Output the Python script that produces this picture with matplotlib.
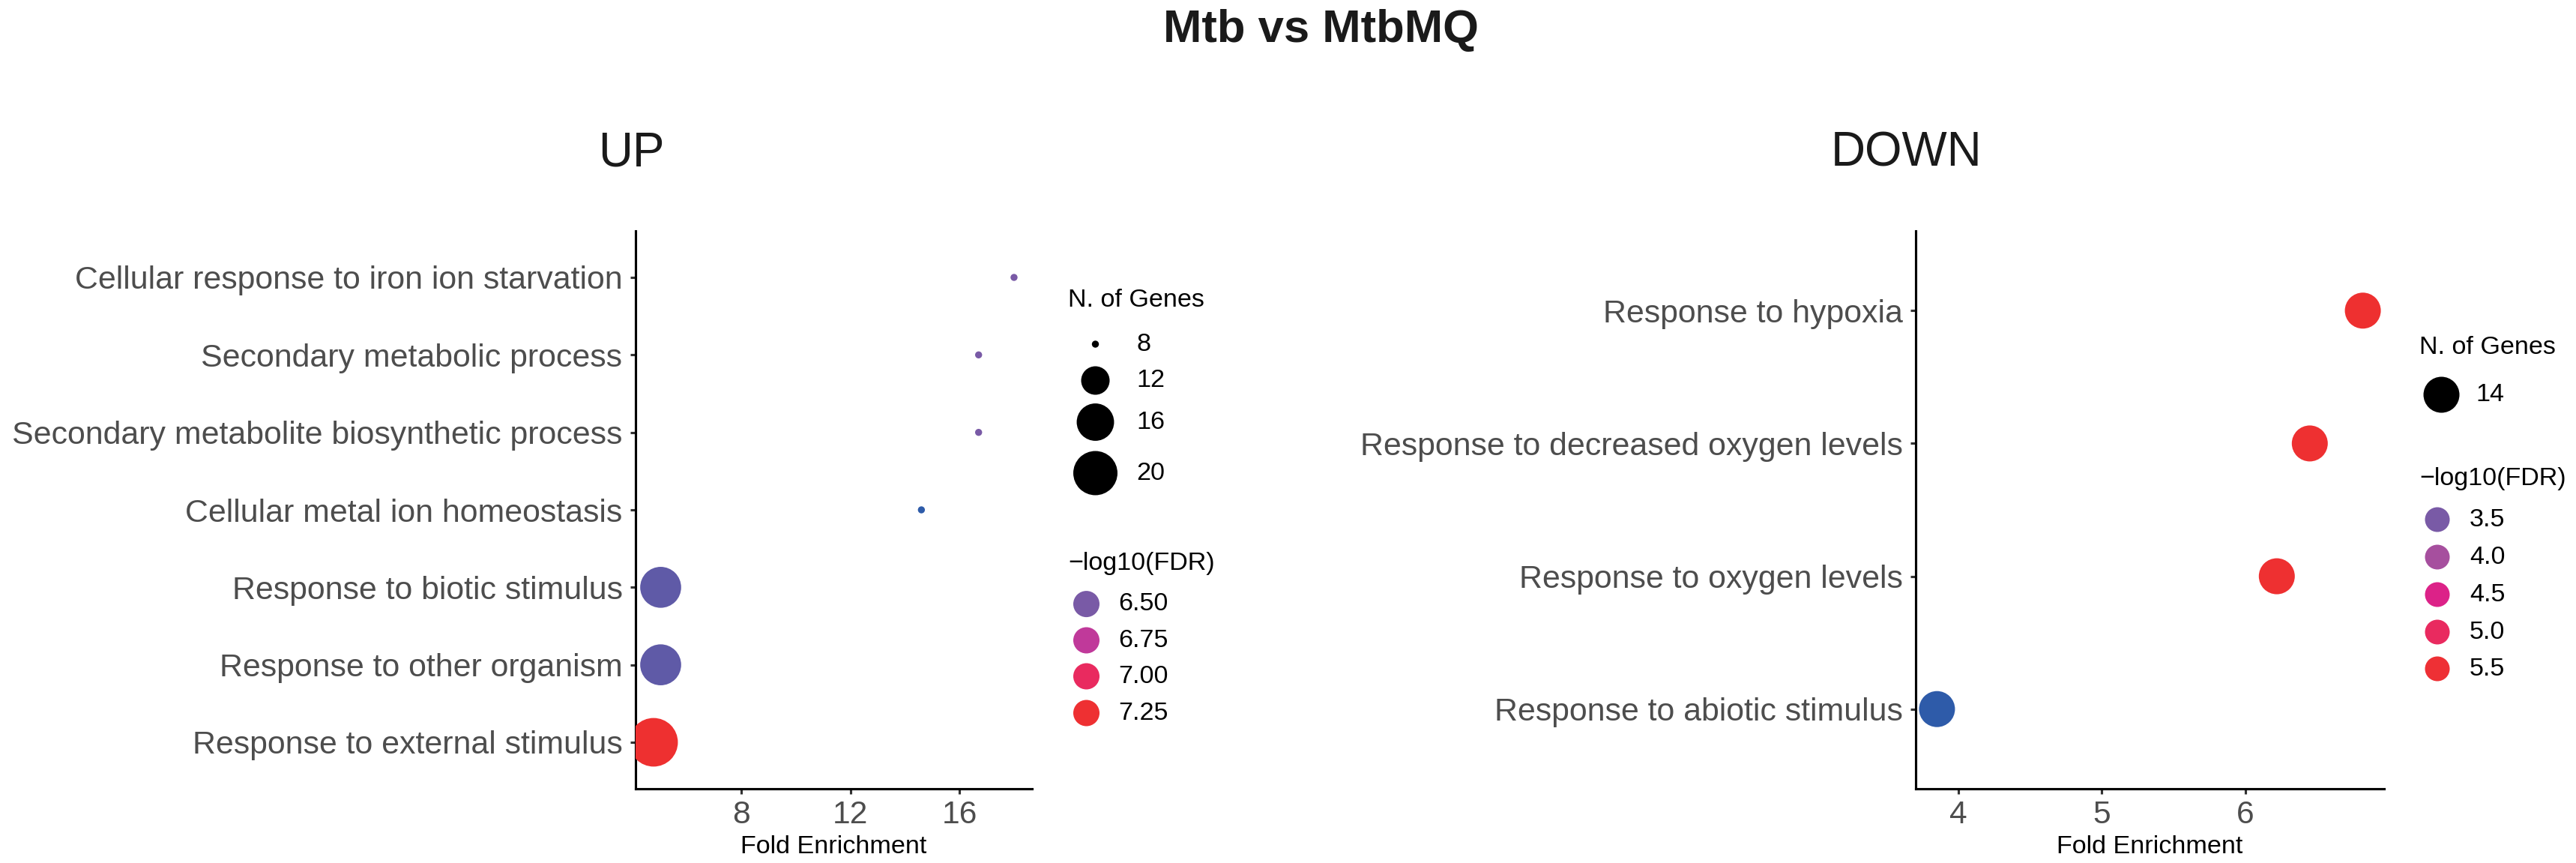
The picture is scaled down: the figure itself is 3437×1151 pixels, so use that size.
import matplotlib.pyplot as plt
import numpy as np
from matplotlib.colors import LinearSegmentedColormap, Normalize

plt.rcParams['font.family'] = ['Liberation Sans', 'DejaVu Sans']

# ---- data (bottom -> top, as on the y axis) ----
up_terms = ["Response to external stimulus", "Response to other organism",
            "Response to biotic stimulus", "Cellular metal ion homeostasis",
            "Secondary metabolite biosynthetic process", "Secondary metabolic process",
            "Cellular response to iron ion starvation"]
up_fold = [4.77, 5.03, 5.03, 14.6, 16.7, 16.7, 18.0]
up_genes = [23, 18, 18, 8, 8, 8, 8]
up_fdr = [7.30, 6.45, 6.45, 6.35, 6.50, 6.50, 6.50]

down_terms = ["Response to abiotic stimulus", "Response to oxygen levels",
              "Response to decreased oxygen levels", "Response to hypoxia"]
down_fold = [3.85, 6.22, 6.45, 6.82]
down_genes = [14, 14, 14, 14]
down_fdr = [3.05, 5.85, 5.85, 5.90]

up_size_breaks = [8, 12, 16, 20]
up_color_breaks = [6.50, 6.75, 7.00, 7.25]
up_color_labels = ["6.50", "6.75", "7.00", "7.25"]
down_size_breaks = [14]
down_color_breaks = [3.5, 4.0, 4.5, 5.0, 5.5]
down_color_labels = ["3.5", "4.0", "4.5", "5.0", "5.5"]

W, H, DPI = 3437, 1151, 300
px2pt = 72 / DPI

cmap = LinearSegmentedColormap.from_list("fdr", [
    (0.0, "#2E5BA9"), (0.16, "#7B5AA6"), (0.333, "#A64F9E"), (0.42, "#C0399A"),
    (0.51, "#DC2288"), (0.684, "#E92A60"), (0.86, "#EE3035"), (1.0, "#EE3030")])


def area_px(n, limits, px_range):
    # ggplot-like area scale: diameter grows with sqrt of rescaled value
    n = np.asarray(n, float)
    lo, hi = limits
    if hi == lo:
        return np.full_like(n, px_range[1])
    frac = np.clip((n - lo) / (hi - lo), 0, 1)
    return px_range[0] + (px_range[1] - px_range[0]) * np.sqrt(frac)


fig = plt.figure(figsize=(W / DPI, H / DPI), dpi=DPI)

panels = [
    dict(terms=up_terms, fold=up_fold, genes=up_genes, fdr=up_fdr,
         xticks=[8, 12, 16], box=(848, 1377), px=(9.4, 64.8)),
    dict(terms=down_terms, fold=down_fold, genes=down_genes, fdr=down_fdr,
         xticks=[4, 5, 6], box=(2556, 3181), px=(48, 48)),
]

top, bottom = 308, 1052
for p in panels:
    x0, x1 = p["box"]
    ax = fig.add_axes([x0 / W, 1 - bottom / H, (x1 - x0) / W, (bottom - top) / H])
    y = np.arange(len(p["terms"]))
    glim = (min(p["genes"]), max(p["genes"]))
    norm = Normalize(min(p["fdr"]), max(p["fdr"]))
    p["glim"], p["norm"] = glim, norm
    d = area_px(p["genes"], glim, p["px"])
    ax.scatter(p["fold"], y, s=(d * px2pt) ** 2, c=cmap(norm(p["fdr"])),
               linewidths=0, zorder=3)
    lo, hi = min(p["fold"]), max(p["fold"])
    pad = (hi - lo) * 0.05
    ax.set_xlim(lo - pad, hi + pad)
    ax.set_ylim(-0.6, len(y) - 0.4)
    ax.set_yticks(y)
    ax.set_yticklabels(p["terms"], fontsize=10.3, color="#4D4D4D")
    ax.set_xticks(p["xticks"])
    ax.set_xticklabels([str(t) for t in p["xticks"]], fontsize=10.2, color="#4D4D4D")
    for s in ["top", "right"]:
        ax.spines[s].set_visible(False)
    for s in ["left", "bottom"]:
        ax.spines[s].set_linewidth(0.75)
    ax.tick_params(axis="both", length=1.7, width=0.75, color="#333333")
    ax.tick_params(axis="y", pad=2.5)
    ax.tick_params(axis="x", pad=2)
    fig.text((x0 + x1) / 2 / W, 1 - 1138 / H, "Fold Enrichment", fontsize=8.2,
             ha="center", va="baseline", color="black")

fig.text(1762 / W, 1 - 56 / H, "Mtb vs MtbMQ", fontsize=14.8, fontweight="bold",
         ha="center", va="baseline", color="#1a1a1a")
fig.text(842 / W, 1 - 222 / H, "UP", fontsize=15.3, ha="center", va="baseline",
         color="#1a1a1a")
fig.text(2544 / W, 1 - 222 / H, "DOWN", fontsize=15.3, ha="center", va="baseline",
         color="#1a1a1a")

# ---- legends drawn on a full-figure overlay in pixel coordinates ----
ov = fig.add_axes([0, 0, 1, 1], facecolor="none")
ov.set_xlim(0, W)
ov.set_ylim(H, 0)
ov.axis("off")

legends = [
    dict(p=panels[0], sizes=up_size_breaks, colors=up_color_breaks,
         clabels=up_color_labels, tx=1425, sy_title=400, s_x=1461.5, s_lab=1516,
         s_rows=[459, 507.5, 563, 631], cy_title=751, c_x=1449.5, c_lab=1492,
         c_rows=[805.6, 854, 902, 951], c_d=35),
    dict(p=panels[1], sizes=down_size_breaks, colors=down_color_breaks,
         clabels=down_color_labels, tx=3228, sy_title=463, s_x=3257, s_lab=3303,
         s_rows=[526], cy_title=638, c_x=3252, c_lab=3295,
         c_rows=[693, 743, 793, 843, 892], c_d=33),
]

for L in legends:
    p = L["p"]
    ov.text(L["tx"], L["sy_title"], "N. of Genes", fontsize=8.2, ha="left", va="center")
    d = area_px(L["sizes"], p["glim"], p["px"])
    ov.scatter([L["s_x"]] * len(L["sizes"]), L["s_rows"], s=(d * px2pt) ** 2,
               c="black", linewidths=0)
    for v, yy in zip(L["sizes"], L["s_rows"]):
        ov.text(L["s_lab"], yy, str(v), fontsize=8.2, ha="left", va="center")
    ov.text(L["tx"], L["cy_title"], "\u2212log10(FDR)", fontsize=8.2, ha="left", va="center")
    ov.scatter([L["c_x"]] * len(L["colors"]), L["c_rows"], s=(L["c_d"] * px2pt) ** 2,
               c=cmap(p["norm"](L["colors"])), linewidths=0)
    for lab, yy in zip(L["clabels"], L["c_rows"]):
        ov.text(L["c_lab"], yy, lab, fontsize=8.2, ha="left", va="center")

fig.savefig("out.png", dpi=DPI)
